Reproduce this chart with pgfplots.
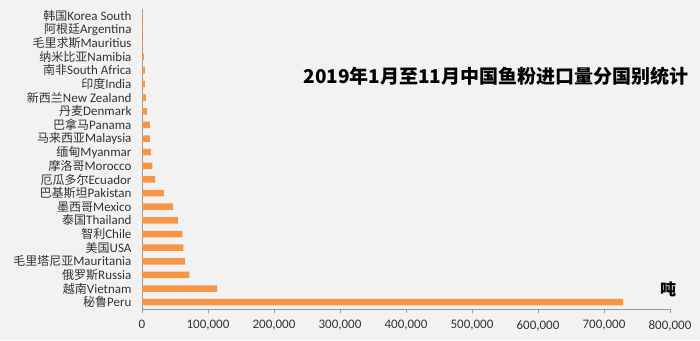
\documentclass[border=0pt]{standalone}
\usepackage{fontspec}
\setmainfont{Carlito}
\newfontfamily\cjk{Noto Sans CJK SC}
\usepackage{pgfplots}
\pgfplotsset{compat=1.18}
\definecolor{bg}{HTML}{F2F2F2}
\definecolor{bar}{HTML}{F79646}
\definecolor{axgray}{HTML}{9A9A9A}
\definecolor{txt}{HTML}{333333}
\newcommand\lab[2]{{\cjk\fontsize{12}{12}\selectfont #1}#2}
\begin{document}
\begin{tikzpicture}
\fill[bg] (0,0) rectangle (700pt,340pt);
\begin{axis}[
    at={(142pt,31pt)}, anchor=south west,
    scale only axis, width=528pt, height=300pt,
    xbar, bar width=6.5pt,
    xmin=0, xmax=800000, ymin=-0.5, ymax=21.5,
    axis x line*=bottom, axis y line*=left,
    axis line style={axgray, line width=0.8pt},
    xtick={0,100000,...,800000},
    scaled x ticks=false,
    xticklabel style={yshift=-4pt, /pgf/number format/.cd, fixed, 1000 sep={,}, assume math mode=true},
    ytick={0,...,21},
    yticklabels={\lab{秘鲁}{Peru}, \lab{越南}{Vietnam}, \lab{俄罗斯}{Russia},
      \lab{毛里塔尼亚}{Mauritania}, \lab{美国}{USA}, \lab{智利}{Chile},
      \lab{泰国}{Thailand}, \lab{墨西哥}{Mexico}, \lab{巴基斯坦}{Pakistan},
      \lab{厄瓜多尔}{Ecuador}, \lab{摩洛哥}{Morocco}, \lab{缅甸}{Myanmar},
      \lab{马来西亚}{Malaysia}, \lab{巴拿马}{Panama}, \lab{丹麦}{Denmark},
      \lab{新西兰}{New Zealand}, \lab{印度}{India}, \lab{南非}{South Africa},
      \lab{纳米比亚}{Namibia}, \lab{毛里求斯}{Mauritius}, \lab{阿根廷}{Argentina},
      \lab{韩国}{Korea South}},
    minor ytick={-0.5,0.5,...,21.5},
    ytick style={draw=none},
    minor tick style={axgray, line width=0.8pt},
    xtick style={axgray, line width=0.8pt},
    tick align=outside,
    major tick length=4pt, minor tick length=5pt,
    tick label style={font=\fontsize{13}{13}\selectfont, text=txt},
    yticklabel style={xshift=-3pt, inner ysep=0pt},
    clip=false,
]
\addplot[fill=bar, draw=none] coordinates {
    (729000,0) (114000,1) (71700,2) (65000,3) (62500,4) (61000,5)
    (54500,6) (47000,7) (33000,8) (19700,9) (15600,10) (13600,11)
    (12000,12) (12000,13) (7600,14) (6000,15) (4500,16) (4500,17)
    (3000,18) (1500,19) (1500,20) (1000,21)
};
\end{axis}
\node[font=\fontsize{19}{19}\selectfont\bfseries\cjk, text=black] at (496pt,264pt)
    {2019年1月至11月中国鱼粉进口量分国别统计};
\node[font=\fontsize{16}{16}\selectfont\bfseries\cjk, text=black] at (668pt,51pt) {吨};
\pgfresetboundingbox
\useasboundingbox (0,0) rectangle (700pt,340pt);
\end{tikzpicture}
\end{document}
